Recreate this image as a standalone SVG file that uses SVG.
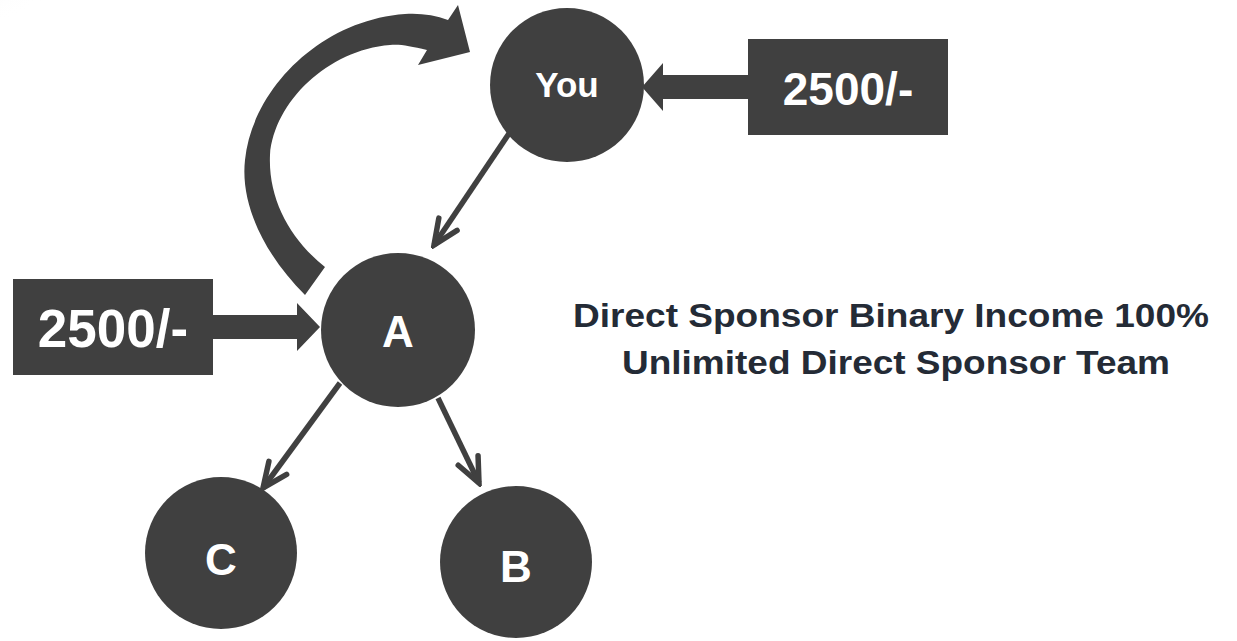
<svg xmlns="http://www.w3.org/2000/svg" width="1237" height="641" viewBox="0 0 1237 641">
  <defs>
    <style>
      .node { fill: #404040; }
      .nlabel { font-family: "Liberation Sans", Arial, sans-serif; font-weight: bold; fill: #ffffff; text-anchor: middle; }
      .thin { stroke: #404040; stroke-width: 5.5; fill: none; marker-end: url(#chev); }
      .block { fill: #404040; }
      .note { font-family: "Liberation Sans", Arial, sans-serif; font-weight: bold; fill: #242b36; font-size: 33px; }
    </style>
    <marker id="chev" markerUnits="userSpaceOnUse" viewBox="-30 -15 34 30" refX="0" refY="0" markerWidth="34" markerHeight="30" orient="auto">
      <path d="M-25,-11 L0,0 L-25,11" fill="none" stroke="#404040" stroke-width="5.5" stroke-linecap="round" stroke-linejoin="miter"/>
    </marker>
    <radialGradient id="corner" cx="0" cy="0" r="1">
      <stop offset="0" stop-color="#ececec"/>
      <stop offset="1" stop-color="#ffffff" stop-opacity="0"/>
    </radialGradient>
  </defs>
  <rect width="1237" height="641" fill="#ffffff"/>
  <ellipse cx="0" cy="0" rx="60" ry="30" fill="url(#corner)"/>

  <g id="connectors">
    <path id="curved-arrow" class="block" d="M305,295 C265,255 240,205 245,160 C252,90 320,20 405,14 C420,13 435,15 448,20 L458,5 L470,52 L418,65 L427,50 C410,46 400,44 390,45 C328,50 274,102 270,155 C268,200 291,240 325,267 Z"/>
    <polygon id="arrow-right-box" class="block" points="748,75 663,75 663,63 642,87 663,111 663,99 748,99"/>
    <polygon id="arrow-left-box" class="block" points="213,315 297,315 297,303 320,327 297,351 297,339 213,339"/>
    <line id="you-a" class="thin" x1="510" y1="132" x2="434" y2="245"/>
    <line id="a-c" class="thin" x1="340" y1="383" x2="263" y2="488"/>
    <line id="a-b" class="thin" x1="438" y1="398" x2="479" y2="483"/>
  </g>

  <g id="node-you">
    <circle class="node" cx="567" cy="85" r="77"/>
    <text class="nlabel" x="567" y="97" font-size="35">You</text>
  </g>
  <g id="node-a">
    <circle class="node" cx="398" cy="330" r="77"/>
    <text class="nlabel" x="398" y="347" font-size="44">A</text>
  </g>
  <g id="node-c">
    <circle class="node" cx="221" cy="553" r="76"/>
    <text class="nlabel" x="221" y="575" font-size="44">C</text>
  </g>
  <g id="node-b">
    <circle class="node" cx="516" cy="562" r="76"/>
    <text class="nlabel" x="516" y="582" font-size="44">B</text>
  </g>
  <g id="box-right">
    <rect x="748" y="39" width="200" height="96" fill="#404040"/>
    <text class="nlabel" x="848" y="105" font-size="46">2500/-</text>
  </g>
  <g id="box-left">
    <rect x="13" y="279" width="200" height="96" fill="#404040"/>
    <text class="nlabel" x="113" y="347" font-size="53">2500/-</text>
  </g>
  <g id="note">
    <text class="note" x="573" y="327" textLength="636" lengthAdjust="spacingAndGlyphs">Direct Sponsor Binary Income 100%</text>
    <text class="note" x="622" y="374" textLength="548" lengthAdjust="spacingAndGlyphs">Unlimited Direct Sponsor Team</text>
  </g>
</svg>
